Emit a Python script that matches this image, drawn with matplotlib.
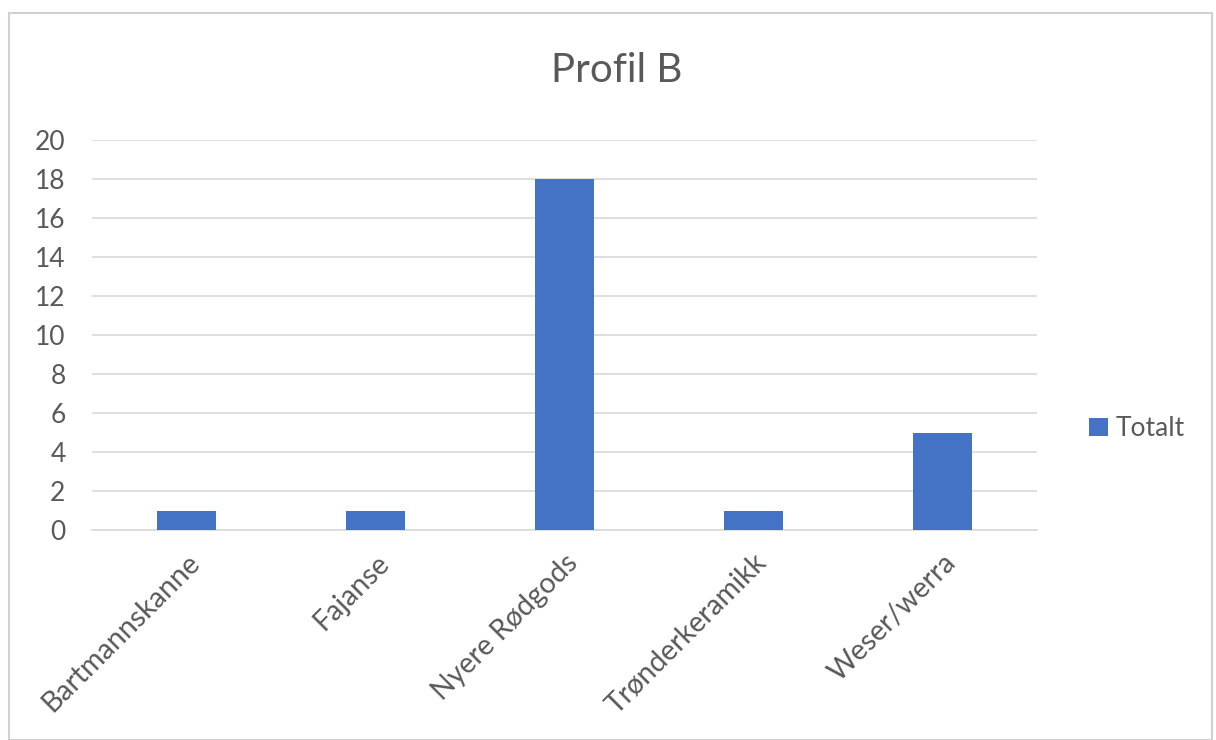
import matplotlib
matplotlib.use("Agg")
import matplotlib.pyplot as plt
from matplotlib.patches import Rectangle

plt.rcParams["font.family"] = ["Lato", "DejaVu Sans"]

categories = ["Bartmannskanne", "Fajanse", "Nyere Rødgods", "Trønderkeramikk", "Weser/werra"]
totalt = [1, 1, 18, 1, 5]
y_ticks = [0, 2, 4, 6, 8, 10, 12, 14, 16, 18, 20]

INK = "#595959"
BAR = "#4472C4"
GRID = "#D9D9D9"

fig = plt.figure(figsize=(12.16, 7.4), dpi=100)
fig.patch.set_facecolor("white")
# light frame around the chart area
fig.patches.append(Rectangle((9 / 1216, 0), 1203 / 1216, 727 / 740, transform=fig.transFigure,
                             fill=False, edgecolor="#D0D0D0", lw=1.5))

ax = fig.add_axes([92 / 1216, 210 / 740, 945 / 1216, 390 / 740])
x = range(len(categories))
ax.bar(x, totalt, width=0.31, color=BAR, zorder=3, label="Totalt")
ax.set_xlim(-0.5, len(categories) - 0.5)
ax.set_ylim(0, 20)
ax.set_yticks(y_ticks)
ax.grid(axis="y", color=GRID, lw=1.2, zorder=0)
for s in ("top", "right", "left"):
    ax.spines[s].set_visible(False)
ax.spines["bottom"].set_color(GRID)
ax.spines["bottom"].set_linewidth(1.2)
ax.tick_params(axis="both", length=0, colors=INK, labelsize=19)
ax.tick_params(axis="y", pad=19)
ax.set_xticks(list(x))
ax.set_xticklabels(categories, rotation=45, ha="right", rotation_mode="anchor", fontsize=20.5)
ax.tick_params(axis="x", pad=14)

fig.text(617 / 1216, 1 - 70 / 740, "Profil B", ha="center", va="center", fontsize=29, color=INK)
ax.legend(loc="center left", bbox_to_anchor=(1.03, 0.26), frameon=False, fontsize=19,
          handlelength=0.7, handleheight=0.7, handletextpad=0.3, labelcolor=INK)

fig.savefig("out.png", dpi=100)
